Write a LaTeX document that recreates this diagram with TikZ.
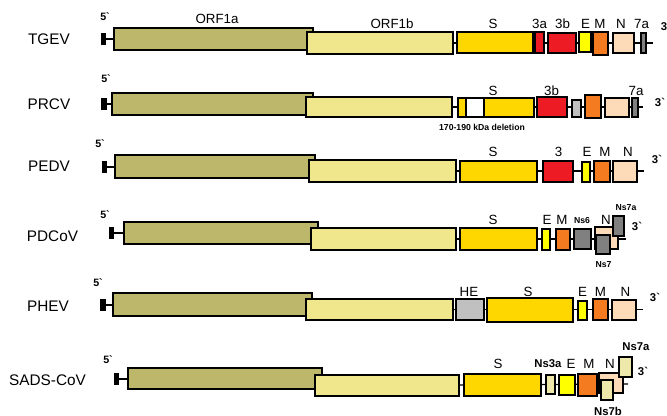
\documentclass[tikz,border=0pt]{standalone}
\usepackage{fontspec}
\setmainfont{Liberation Sans}
\usetikzlibrary{backgrounds}
\definecolor{orfa}{HTML}{BDB76B}
\definecolor{orfb}{HTML}{F0E68C}
\definecolor{sgold}{HTML}{FFD700}
\definecolor{gred}{HTML}{ED1C24}
\definecolor{eyel}{HTML}{FFFF00}
\definecolor{morange}{HTML}{F47B20}
\definecolor{npeach}{HTML}{FDDAB8}
\definecolor{dgray}{HTML}{808080}
\definecolor{lgray}{HTML}{C0C0C0}
\definecolor{pale}{HTML}{EEE8AA}
\newcommand{\gbox}[6]{\node[genebox, fill=#6, minimum width={(#4-#2)*0.75pt}, minimum height={(#5-#3)*0.75pt}] (#1) at ({(#2+#4)/2},{(#3+#5)/2}) {};}
\begin{document}
\begin{tikzpicture}[x=0.75pt,y=-0.75pt,
  genebox/.style={draw=black, line width=0.9pt, inner sep=0pt, outer sep=0pt},
  bb/.style={draw=black, line width=0.9pt},
  rowlab/.style={inner sep=0pt, font=\fontsize{11.5}{12}\selectfont},
  glab/.style={inner sep=0pt, font=\fontsize{10}{11}\selectfont},
  endlab/.style={inner sep=0pt, font=\bfseries\fontsize{8.5}{9}\selectfont},
  fivelab/.style={inner sep=0pt, font=\bfseries\fontsize{8}{9}\selectfont},
  tinylab/.style={inner sep=0pt, font=\bfseries\fontsize{6.5}{7}\selectfont},
  midlab/.style={inner sep=0pt, font=\bfseries\fontsize{8.5}{9}\selectfont}]
\useasboundingbox (0,0) rectangle (667,415);
\begin{pgfonlayer}{background}
\fill[white] (0,0) rectangle (667,415);
\end{pgfonlayer}

% ---------- Row 1: TGEV
\node[rowlab] (l1) at (49,39) {TGEV};
\node[fivelab] (f1) at (105,17) {5\textasciigrave};
\gbox{t1}{102}{34}{105}{44}{black}
\gbox{a1}{114}{28}{313}{50}{orfa}
\gbox{b1}{307}{32}{453}{54}{orfb}
\gbox{s1}{457}{32}{533}{53}{sgold}
\gbox{xa1}{535}{32}{544}{53}{gred}
\gbox{xb1}{548}{33}{576}{53}{gred}
\gbox{e1}{579}{32}{591}{52}{eyel}
\gbox{m1}{593}{32}{608}{55}{morange}
\gbox{n1}{613}{33}{634}{53}{npeach}
\gbox{q1}{641}{33}{646}{53}{dgray}
\coordinate (end1) at (653,43);
\node[endlab] (th1) at (666,26) {3\textasciigrave};
\node[glab] (la1) at (217,19) {ORF1a};
\node[glab] (lb1) at (392,24) {ORF1b};
\node[glab] (ls1) at (493,24) {S};
\node[glab] (lxa1) at (539.5,24) {3a};
\node[glab] (lxb1) at (562.5,24) {3b};
\node[glab] (le1) at (585.5,24) {E};
\node[glab] (lm1) at (600,24) {M};
\node[glab] (ln1) at (621,24) {N};
\node[glab] (lq1) at (641.5,24) {7a};

% ---------- Row 2: PRCV
\node[rowlab] (l2) at (49,104) {PRCV};
\node[fivelab] (f2) at (106,79) {5\textasciigrave};
\gbox{t2}{102}{99}{106}{109}{black}
\gbox{a2}{112}{93}{313}{115}{orfa}
\gbox{b2}{306}{97}{452}{117}{orfb}
\gbox{sa2}{458}{98}{466}{117}{sgold}
\gbox{sd2}{466}{98}{484}{117}{white}
\gbox{sb2}{484}{98}{534}{117}{sgold}
\gbox{xb2}{537}{97}{567}{117}{gred}
\gbox{g2}{572}{100}{581}{117}{lgray}
\gbox{m2}{585}{95}{601}{118}{morange}
\gbox{n2}{605}{98}{629}{117}{npeach}
\gbox{q2}{632}{98}{638}{117}{dgray}
\coordinate (end2) at (643,107);
\node[endlab] (th2) at (660,102) {3\textasciigrave};
\node[glab] (ls2) at (493,91) {S};
\node[glab] (lxb2) at (551.5,91) {3b};
\node[glab] (lq2) at (636,91) {7a};
\node[tinylab] (del2) at (482,127) {170-190 kDa deletion};

% ---------- Row 3: PEDV
\node[rowlab] (l3) at (49,166) {PEDV};
\node[fivelab] (f3) at (100,144) {5\textasciigrave};
\gbox{t3}{103}{162}{106}{172}{black}
\gbox{a3}{115}{155}{315}{178}{orfa}
\gbox{b3}{309}{160}{456}{182}{orfb}
\gbox{s3}{460}{161}{537}{182}{sgold}
\gbox{x3}{543}{161}{573}{182}{gred}
\gbox{e3}{582}{162}{590}{182}{eyel}
\gbox{m3}{594}{161}{610}{182}{morange}
\gbox{n3}{613}{161}{637}{182}{npeach}
\coordinate (end3) at (644,171);
\node[endlab] (th3) at (657,159) {3\textasciigrave};
\node[glab] (ls3) at (493,152) {S};
\node[glab] (lx3) at (558.5,152) {3};
\node[glab] (le3) at (587,152) {E};
\node[glab] (lm3) at (605,152) {M};
\node[glab] (ln3) at (628,152) {N};

% ---------- Row 4: PDCoV
\node[rowlab] (l4) at (52.5,236) {PDCoV};
\node[fivelab] (f4) at (105,215) {5\textasciigrave};
\gbox{t4}{110}{228}{113}{238}{black}
\gbox{a4}{124}{222}{318}{244}{orfa}
\gbox{b4}{311}{228}{456}{250}{orfb}
\gbox{s4}{460}{228}{537}{250}{sgold}
\gbox{e4}{542}{229}{550}{250}{eyel}
\gbox{m4}{556}{229}{570}{250}{morange}
\gbox{ns4}{574}{229}{591}{249}{dgray}
\gbox{n4}{595}{227}{618}{249}{npeach}
\gbox{ns7a4}{613}{216}{624}{236}{dgray}
\gbox{ns74}{596}{235}{610}{254}{dgray}
\coordinate (end4) at (626,239);
\node[endlab] (th4) at (637,226) {3\textasciigrave};
\node[glab] (ls4) at (493,219.5) {S};
\node[glab] (le4) at (547,219.5) {E};
\node[glab] (lm4) at (562,219.5) {M};
\node[tinylab] (lns4) at (582,221) {Ns6};
\node[glab] (ln4) at (606,219.5) {N};
\node[tinylab] (lns7a4) at (626,208) {Ns7a};
\node[tinylab] (lns74) at (603.5,265) {Ns7};

% ---------- Row 5: PHEV
\node[rowlab] (l5) at (48,306) {PHEV};
\node[fivelab] (f5) at (98,283) {5\textasciigrave};
\gbox{t5}{101}{300}{105}{310}{black}
\gbox{a5}{113}{293}{312}{316}{orfa}
\gbox{b5}{306}{299}{453}{320}{orfb}
\gbox{h5}{456}{299}{484}{320}{lgray}
\gbox{s5}{487}{298}{573}{322}{sgold}
\gbox{e5}{578}{301}{587}{320}{eyel}
\gbox{m5}{593}{299}{608}{320}{morange}
\gbox{n5}{612}{300}{636}{320}{npeach}
\coordinate (end5) at (643,309.5);
\node[endlab] (th5) at (655,297) {3\textasciigrave};
\node[glab] (lh5) at (469,291.5) {HE};
\node[glab] (ls5) at (528,291.5) {S};
\node[glab] (le5) at (582.5,291.5) {E};
\node[glab] (lm5) at (600.5,291.5) {M};
\node[glab] (ln5) at (625.5,291.5) {N};

% ---------- Row 6: SADS-CoV
\node[rowlab] (l6) at (47.5,380) {SADS-CoV};
\node[fivelab] (f6) at (108,360) {5\textasciigrave};
\gbox{t6}{115}{374}{118}{384}{black}
\gbox{a6}{128}{368}{322}{389}{orfa}
\gbox{b6}{315}{375}{459}{396}{orfb}
\gbox{s6}{464}{374}{541}{396}{sgold}
\gbox{ns3a6}{546}{375}{555}{394}{pale}
\gbox{e6}{559}{375}{575}{395}{eyel}
\gbox{m6}{578}{374}{597}{396}{morange}
\gbox{n6}{599}{373}{623}{393}{npeach}
\gbox{ns7a6}{619}{357}{632}{377}{pale}
\gbox{ns7b6}{601}{380}{613}{400}{pale}
\coordinate (end6) at (628,384);
\node[endlab] (th6) at (643,371) {3\textasciigrave};
\node[glab] (ls6) at (498,364) {S};
\node[midlab] (lns3a6) at (548,364) {Ns3a};
\node[glab] (le6) at (571,364) {E};
\node[glab] (lm6) at (589,364) {M};
\node[glab] (ln6) at (610,364) {N};
\node[midlab] (lns7a6) at (636,347) {Ns7a};
\node[midlab] (lns7b6) at (608,411) {Ns7b};

% ---------- backbones
\begin{pgfonlayer}{background}
\foreach \r in {1,...,6}{
  \draw[bb] (t\r.center) -- (a\r.west |- t\r.center);
  \draw[bb] (b\r.center) -- (end\r);
}
\end{pgfonlayer}
\end{tikzpicture}
\end{document}
